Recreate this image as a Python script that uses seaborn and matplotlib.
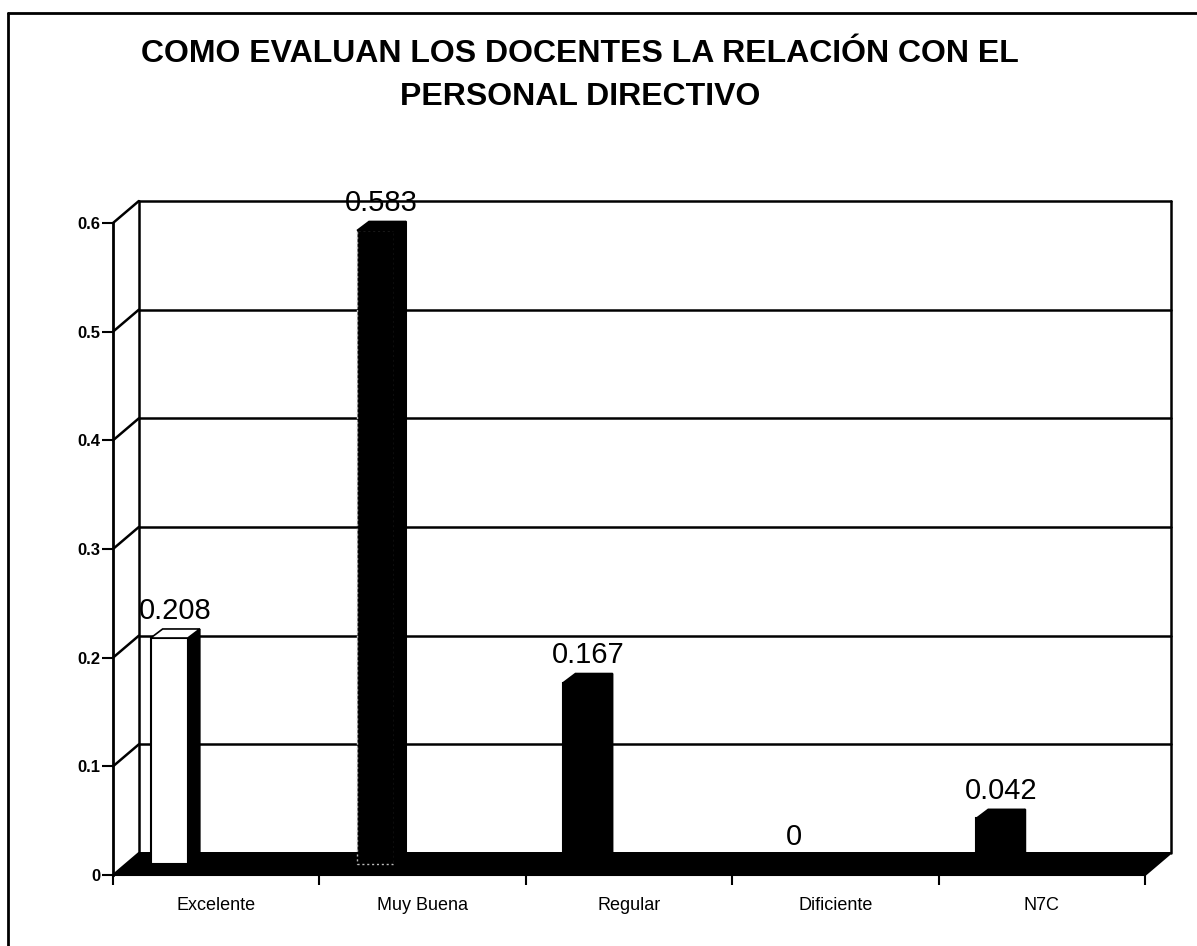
import seaborn as sns
import matplotlib.pyplot as plt
from matplotlib.patches import Polygon
from matplotlib.lines import Line2D

# Datos del gráfico
categorias = ["Excelente", "Muy Buena", "Regular", "Dificiente", "N7C"]
valores = [0.208, 0.583, 0.167, 0.0, 0.042]
etiquetas = ["0.208", "0.583", "0.167", "0", "0.042"]
ticks_y = [0, 0.1, 0.2, 0.3, 0.4, 0.5, 0.6]
ticks_y_txt = ["0", "0.1", "0.2", "0.3", "0.4", "0.5", "0.6"]
colores = ["white", "black", "black", "black", "black"]

sns.set_style("white")
plt.rcParams["font.family"] = ["Liberation Sans", "DejaVu Sans"]
plt.rcParams["text.color"] = "black"
plt.rcParams["xtick.color"] = "black"
plt.rcParams["ytick.color"] = "black"
plt.rcParams["xtick.labelcolor"] = "black"
plt.rcParams["ytick.labelcolor"] = "black"

W, H = 1197, 946
fig = plt.figure(figsize=(W / 100, H / 100), dpi=100)
fig.patch.set_facecolor("white")
ax = fig.add_axes([113 / W, 71 / H, 1032 / W, 652 / H])

# efecto 3D (unidades de datos)
dx, dy = 0.125, 0.0202     # pared del fondo
bdx, bdy = 0.058, 0.0083   # profundidad de las barras
desplaz = -0.29
ancho = 0.18

sns.barplot(x=categorias, y=valores, hue=categorias, palette=colores,
            width=ancho, legend=False, edgecolor="black", linewidth=1.5, ax=ax)
barras = list(ax.patches)

ax.set_xlim(-0.5, 4.5)
ax.set_ylim(0, 0.6)
x0w, x1w = -0.5, 4.5

# piso negro
ax.add_patch(Polygon([(x0w, 0), (x1w, 0), (x1w + dx, dy), (x0w + dx, dy)],
                     closed=True, facecolor="black", edgecolor="black",
                     lw=1.5, zorder=3, clip_on=False))

# pared del fondo y líneas de división
lk = dict(color="black", lw=1.8, zorder=1, clip_on=False)
for v in ticks_y[1:]:
    ax.plot([x0w + dx, x1w + dx], [v + dy, v + dy], **lk)
    ax.plot([x0w, x0w + dx], [v, v + dy], **lk)
ax.plot([x0w + dx, x0w + dx], [dy, ticks_y[-1] + dy], **lk)
ax.plot([x1w + dx, x1w + dx], [dy, ticks_y[-1] + dy], **lk)

# barras 3D
for p, col, txt in zip(barras, colores, etiquetas):
    p.set_x(p.get_x() + desplaz + dx / 2)
    p.set_y(dy / 2)
    p.set_zorder(5)
    p.set_clip_on(False)
    xa = p.get_x()
    xb = xa + p.get_width()
    base = p.get_y()
    top = base + p.get_height()
    if p.get_height() > 0:
        ax.add_patch(Polygon([(xb, base), (xb + bdx, base + bdy),
                              (xb + bdx, top + bdy), (xb, top)],
                             facecolor="black", edgecolor="black", lw=1.2,
                             zorder=5, clip_on=False))
        ax.add_patch(Polygon([(xa, top), (xa + bdx, top + bdy),
                              (xb + bdx, top + bdy), (xb, top)],
                             facecolor=col, edgecolor="black", lw=1.2,
                             zorder=5, clip_on=False))
    ax.text(xa + p.get_width() / 2 + bdx / 2, top + bdy + 0.004, txt,
            ha="center", va="bottom", fontsize=21, color="black", zorder=6)

barras[1].set_edgecolor("#bbbbbb")
barras[1].set_linestyle((0, (1.5, 2)))
barras[1].set_linewidth(1)

# ejes
for s in ["top", "right", "bottom"]:
    ax.spines[s].set_visible(False)
ax.spines["left"].set_linewidth(2)
ax.spines["left"].set_color("black")
ax.set_yticks(ticks_y)
ax.set_yticklabels(ticks_y_txt, fontsize=12, fontweight="bold")
ax.set_xticks(range(len(categorias)))
ax.set_xticklabels(categorias, fontsize=13)
ax.set_xticks([i - 0.5 for i in range(len(categorias) + 1)], minor=True)
ax.tick_params(axis="y", left=True, direction="out", length=8, width=1.5, pad=1)
ax.tick_params(axis="x", which="major", bottom=True, length=0, pad=16)
ax.tick_params(axis="x", which="minor", bottom=True, direction="out",
               length=7, width=1.5)
ax.set_xlabel("")
ax.set_ylabel("")
ax.patch.set_alpha(0)

# título
fig.text(580 / W, 1 - 62 / H, "COMO EVALUAN LOS DOCENTES LA RELACIÓN CON EL",
         ha="center", va="baseline", fontsize=23, fontweight="bold", color="black")
fig.text(580 / W, 1 - 105 / H, "PERSONAL DIRECTIVO",
         ha="center", va="baseline", fontsize=23, fontweight="bold", color="black")

# marco
fig.add_artist(Line2D([8 / W, 8 / W], [0, 1 - 13 / H], transform=fig.transFigure,
                      color="black", lw=2))
fig.add_artist(Line2D([8 / W, 1], [1 - 13 / H, 1 - 13 / H], transform=fig.transFigure,
                      color="black", lw=2))

fig.savefig("out.png", dpi=100)
